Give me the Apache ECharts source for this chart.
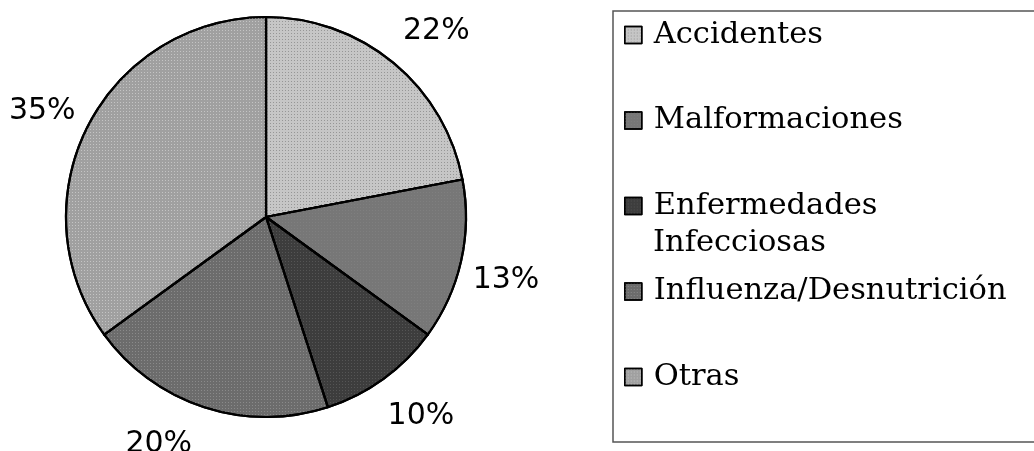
<!DOCTYPE html>
<html>
<head>
<meta charset="utf-8">
<script src="https://cdn.jsdelivr.net/npm/echarts@6/dist/echarts.min.js"></script>
<style>
    html, body { margin: 0; padding: 0; background: #fff; }
    #chart { width: 1034px; height: 451px; }
</style>
</head>
<body>
<div id="chart"></div>
<script>
// datos
const categories = ["Accidentes", "Malformaciones", "Enfermedades Infecciosas", "Influenza/Desnutrición", "Otras"];
const values = [22, 13, 10, 20, 35];

// estilos
const fills = ["#c6c6c6", "#777777", "#3d3d3d", "#6c6c6c", "#a0a0a0"];
const dotColors = ["#969696", "#7f7f7f", "#555555", "#8a8a8a", "#c4c4c4"];
const labelNudge = [[11, 7], [-4, 9], [8, -3], [-30, -11], [-1, 8]];

const chart = echarts.init(document.getElementById("chart"));

let pieData = [];
let labelData = [];
for (let i = 0; i < categories.length; i++) {
    pieData.push({
        name: categories[i],
        value: values[i],
        itemStyle: {
            color: fills[i],
            decal: {
                symbol: "rect",
                symbolSize: 1,
                dashArrayX: [1, 2],
                dashArrayY: [1, 2],
                color: dotColors[i],
            },
        },
    });
    labelData.push({
        name: categories[i],
        value: values[i],
        label: { offset: labelNudge[i] },
    });
}

chart.setOption({
    animation: false,
    legend: {
        orient: "vertical",
        left: 613,
        top: 11,
        padding: [7, 60, 48, 11],
        borderColor: "#555",
        borderWidth: 1.5,
        itemWidth: 17,
        itemHeight: 17,
        itemGap: 51.5,
        icon: "rect",
        selectedMode: false,
        itemStyle: { borderColor: "#000", borderWidth: 1.5 },
        textStyle: {
            fontFamily: "DejaVu Serif",
            fontSize: 30.5,
            lineHeight: 34,
            color: "#000",
            padding: [0, 0, 0, 7],
        },
        formatter: function (name) {
            return name === "Enfermedades Infecciosas" ? "Enfermedades" : name;
        },
        data: categories,
    },
    graphic: [
        {
            type: "text",
            left: 653,
            top: 228,
            style: {
                text: "Infecciosas",
                font: "30.5px 'DejaVu Serif'",
                fill: "#000",
            },
        },
    ],
    series: [
        {
            name: "pie",
            type: "pie",
            center: [266, 217],
            radius: 200,
            startAngle: 90,
            clockwise: true,
            silent: true,
            label: { show: false },
            labelLine: { show: false },
            itemStyle: { borderColor: "#000", borderWidth: 2.2 },
            emphasis: { disabled: true },
            data: pieData,
        },
        {
            // serie transparente solo para colocar los porcentajes fuera del pastel
            name: "labels",
            type: "pie",
            center: [266, 217],
            radius: [0, 494],
            startAngle: 90,
            clockwise: true,
            silent: true,
            z: 3,
            itemStyle: { color: "rgba(0,0,0,0)", borderWidth: 0 },
            emphasis: { disabled: true },
            labelLine: { show: false },
            label: {
                show: true,
                position: "inside",
                formatter: "{c}%",
                fontFamily: "DejaVu Sans",
                fontSize: 30,
                color: "#000",
            },
            data: labelData,
        },
    ],
});
</script>
</body>
</html>
